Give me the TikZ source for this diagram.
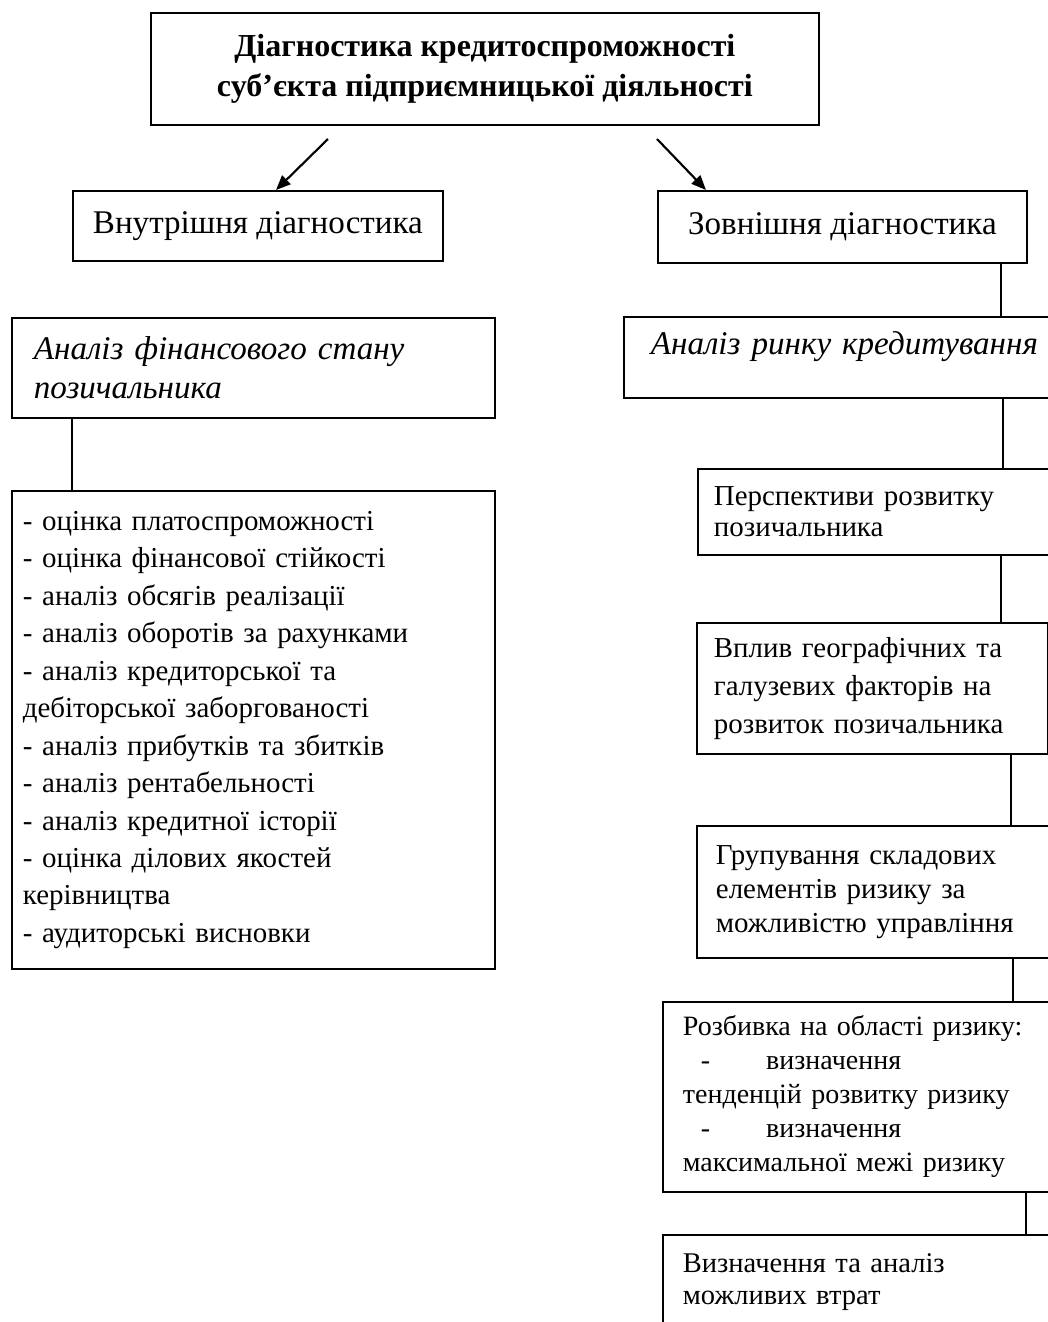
\documentclass[tikz,border=0pt]{standalone}
\usepackage{fontspec}
\setmainfont{Liberation Serif}
\usepackage{tikz}
\usetikzlibrary{arrows.meta,positioning}

\begin{document}
\begin{tikzpicture}[x=0.75pt, y=-0.75pt,
  big/.style={font=\fontsize{24.8}{29.25}\selectfont},
  small/.style={font=\fontsize{21.7}{28}\selectfont},
  box/.style={draw, line width=1.35pt, anchor=north west, align=left, inner ysep=0pt},
  link/.style={line width=1.2pt},
  arr/.style={-{Triangle[length=11pt, width=9pt]}, line width=1.6pt}]
\useasboundingbox (0,0) rectangle (1048,1322);
% top and the two branches
\node[box, align=center, minimum width=501pt, minimum height=84pt,
  font=\fontsize{24}{30}\selectfont\bfseries] (diag) at (150,12)
  {Діагностика кредитоспроможності\\суб’єкта підприємницької діяльності};
\node[box, big, align=center, minimum width=277.5pt, minimum height=52.5pt] (inner) at (72,190) {Внутрішня діагностика};
\node[box, big, align=center, minimum width=276.75pt, minimum height=54pt] (outer) at (657,190) {Зовнішня діагностика};
% left column
\node[box, big, text width=329.25pt, inner xsep=16.5pt, minimum height=75pt] (fin) at (11,317)
  {\itshape Аналіз фінансового стану\\\itshape позичальника};
\node[box, text width=345.75pt, inner xsep=8.25pt, minimum height=358.5pt, font=\fontsize{21.7}{28.1}\selectfont] (list) at (11,490)
  {- оцінка платоспроможності\\
   - оцінка фінансової стійкості\\
   - аналіз обсягів реалізації\\
   - аналіз оборотів за рахунками\\
   - аналіз кредиторської та\\
   дебіторської заборгованості\\
   - аналіз прибутків та збитків\\
   - аналіз рентабельності\\
   - аналіз кредитної історії\\
   - оцінка ділових якостей\\
   керівництва\\
   - аудиторські висновки};
% right column
\node[box, big, text width=294.75pt, inner xsep=20.25pt, minimum height=60.75pt, text depth=22pt] (market) at (623,316)
  {\itshape Аналіз ринку кредитування};
\node[box, text width=255.75pt, inner xsep=12pt, minimum height=64.5pt, font=\fontsize{21.7}{23.5}\selectfont] (persp) at (697,468)
  {Перспективи розвитку\\позичальника};
\node[box, text width=237.75pt, inner xsep=12.75pt, minimum height=98.25pt, font=\fontsize{21.7}{28.5}\selectfont] (geo) at (696,622)
  {Вплив географічних та\\галузевих факторів на\\розвиток позичальника};
\node[box, text width=252pt, inner xsep=14.25pt, minimum height=99pt, font=\fontsize{21.7}{25.5}\selectfont] (group) at (696,825)
  {Групування складових\\елементів ризику за\\можливістю управління};
\node[box, text width=276pt, inner xsep=15pt, minimum height=142.5pt, font=\fontsize{21}{25.5}\selectfont] (areas) at (662,1001)
  {Розбивка на області ризику:\\
   \hspace*{13.5pt}-\hspace*{42pt}визначення\\
   тенденцій розвитку ризику\\
   \hspace*{13.5pt}-\hspace*{42pt}визначення\\
   максимальної межі ризику};
\node[box, text width=276pt, inner xsep=15pt, minimum height=70.5pt, font=\fontsize{21.4}{24}\selectfont] (loss) at (662,1234)
  {Визначення та аналіз\\можливих втрат};
% arrows and links
\coordinate (a1) at (328,139);
\coordinate (a2) at (657,139);
\coordinate (t1) at (276,0);
\coordinate (t2) at (706,0);
\draw[arr] (a1) -- (inner.north -| t1);
\draw[arr] (a2) -- (outer.north -| t2);
\coordinate (k0) at (72,0);
\coordinate (k1) at (1001,0);
\coordinate (k2) at (1003,0);
\coordinate (k3) at (1011,0);
\coordinate (k4) at (1013,0);
\coordinate (k5) at (1026,0);
\draw[link] (fin.south -| k0) -- (list.north -| k0);
\draw[link] (outer.south -| k1) -- (market.north -| k1);
\draw[link] (market.south -| k2) -- (persp.north -| k2);
\draw[link] (persp.south -| k1) -- (geo.north -| k1);
\draw[link] (geo.south -| k3) -- (group.north -| k3);
\draw[link] (group.south -| k4) -- (areas.north -| k4);
\draw[link] (areas.south -| k5) -- (loss.north -| k5);
\end{tikzpicture}
\end{document}
